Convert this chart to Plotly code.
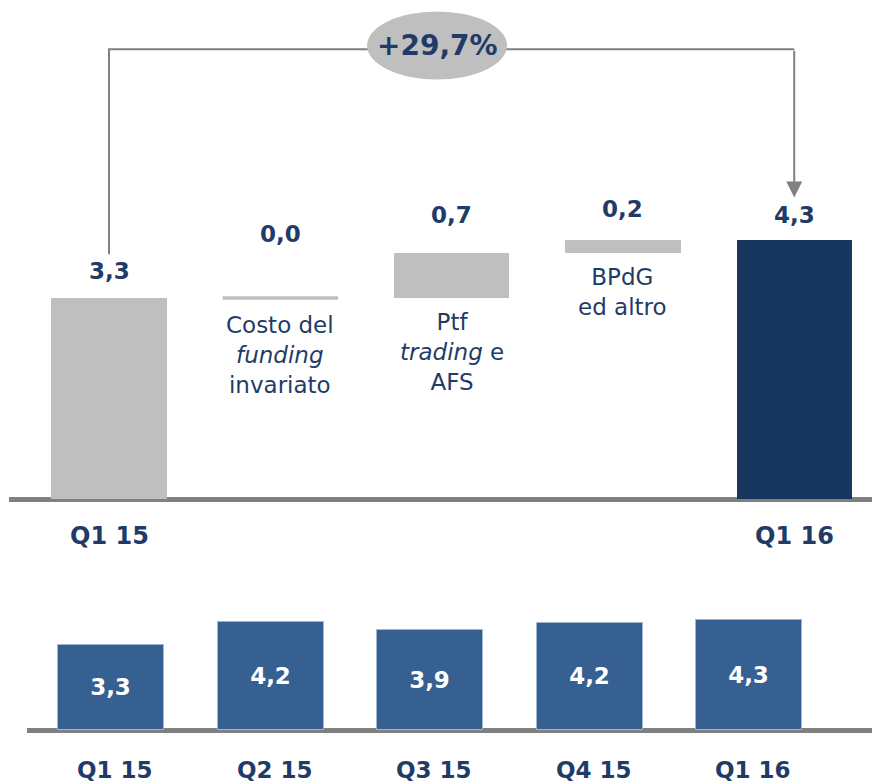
import plotly.graph_objects as go

# ---------------- data ----------------
wf_start_label = "Q1 15"
wf_end_label = "Q1 16"
wf_start_value = 3.30
wf_step_labels = ["Costo del<br><i>funding</i><br>invariato",
                  "Ptf<br><i>trading</i> e<br>AFS",
                  "BPdG<br>ed altro"]
wf_step_values = [0.00, 0.74, 0.22]
wf_end_value = 4.26
growth_label = "+29,7%"

quarters = ["Q1 15", "Q2 15", "Q3 15", "Q4 15", "Q1 16"]
quarter_values = [3.30, 4.20, 3.86, 4.16, 4.26]

# ---------------- style ----------------
FONT = "DejaVu Sans"
NAVY_TXT = "#1f3c68"
GREY = "#bfbfbf"
DARK = "#17375e"
MID = "#366092"
LINE = "#808080"
W, H = 872, 782
SPLIT = 1 - 570 / H


def fmt(v):
    return f"{v:.1f}".replace(".", ",")


fig = go.Figure()

# ---------------- waterfall (top) ----------------
n_steps = len(wf_step_values)
end_x = n_steps + 1
bar_w = 0.674

fig.add_trace(go.Bar(x=[0, end_x], y=[wf_start_value, wf_end_value],
                     marker=dict(color=[GREY, DARK], line=dict(width=0)),
                     width=bar_w, xaxis="x", yaxis="y", hoverinfo="skip"))

bases, cum = [], wf_start_value
for d in wf_step_values:
    bases.append(cum)
    cum += d
step_x = list(range(1, n_steps + 1))
fig.add_trace(go.Bar(x=step_x, y=wf_step_values, base=bases,
                     marker=dict(color=GREY, line=dict(width=0)),
                     width=bar_w, xaxis="x", yaxis="y", hoverinfo="skip"))
# zero steps drawn as a flat marker
for xi, d, b in zip(step_x, wf_step_values, bases):
    if d == 0:
        fig.add_trace(go.Scatter(x=[xi - bar_w / 2, xi + bar_w / 2], y=[b, b],
                                 mode="lines", line=dict(color=GREY, width=3.5),
                                 xaxis="x", yaxis="y", hoverinfo="skip"))

annotations = []
tops = [wf_start_value] + [b + d for b, d in zip(bases, wf_step_values)] + [wf_end_value]
vals = [wf_start_value] + wf_step_values + [wf_end_value]
gaps = [27, 64, 38, 31, 25]
for i, (t, v, g) in enumerate(zip(tops, vals, gaps)):
    annotations.append(dict(x=i, y=t, xref="x", yref="y", yshift=g, yanchor="middle",
                            text=f"<b>{fmt(v)}</b>", showarrow=False,
                            font=dict(family=FONT, size=23, color=NAVY_TXT)))
desc_shift = [-12, -9, -9]
for xi, b, lab, s in zip(step_x, bases, wf_step_labels, desc_shift):
    annotations.append(dict(x=xi, y=b, xref="x", yref="y", yshift=s, yanchor="top",
                            text=lab, showarrow=False,
                            font=dict(family=FONT, size=23, color=NAVY_TXT)))
for xi, lab in [(0, wf_start_label), (end_x, wf_end_label)]:
    annotations.append(dict(x=xi, y=0, xref="x", yref="y", yshift=-37, yanchor="middle",
                            text=f"<b>{lab}</b>", showarrow=False,
                            font=dict(family=FONT, size=24, color=NAVY_TXT)))

# bracket with arrow
BR_Y = 7.384
annotations.append(dict(x=end_x, y=wf_end_value + 0.69, ax=end_x, ay=BR_Y,
                        xref="x", yref="y", axref="x", ayref="y", text="",
                        showarrow=True, arrowhead=2, arrowsize=1.6, arrowwidth=2,
                        arrowcolor=LINE))
annotations.append(dict(x=1.915, y=7.447, xref="x", yref="y",
                        text=f"<b>{growth_label}</b>", showarrow=False,
                        font=dict(family=FONT, size=28, color=NAVY_TXT)))
shapes = [
    dict(type="path", xref="x", yref="y",
         path=f"M 0,{wf_start_value + 0.72} L 0,{BR_Y} L {end_x},{BR_Y}",
         line=dict(color=LINE, width=2)),
    dict(type="circle", xref="x", yref="y", xsizemode="pixel", ysizemode="pixel",
         xanchor=1.915, yanchor=7.447, x0=-70, x1=70, y0=-34, y1=34,
         fillcolor=GREY, line=dict(width=0)),
]

# ---------------- quarterly bars (bottom) ----------------
qx = list(range(len(quarters)))
fig.add_trace(go.Bar(x=qx, y=quarter_values, width=0.665,
                     marker=dict(color=MID, line=dict(color="#9fb6d3", width=1)),
                     text=[f"<b>{fmt(v)}</b>" for v in quarter_values],
                     textposition="inside", insidetextanchor="middle",
                     textfont=dict(family=FONT, size=23, color="white"),
                     xaxis="x2", yaxis="y2", hoverinfo="skip"))
for xi, q in zip(qx, quarters):
    annotations.append(dict(x=xi, y=0, xref="x2", yref="y2", xshift=4, yshift=-40,
                            yanchor="middle", text=f"<b>{q}</b>", showarrow=False,
                            font=dict(family=FONT, size=23, color=NAVY_TXT)))

hidden = dict(showgrid=False, showticklabels=False, ticks="", showline=False)
fig.update_layout(
    width=W, height=H, margin=dict(l=0, r=0, t=0, b=0),
    paper_bgcolor="white", plot_bgcolor="white",
    barmode="overlay", showlegend=False, bargap=0,
    font=dict(family=FONT),
    xaxis=dict(domain=[9 / W, 1], range=[-0.5838, 4.454], zeroline=False, **hidden),
    yaxis=dict(domain=[SPLIT, 1], range=[-71 / 60.9, 499 / 60.9],
               zeroline=True, zerolinewidth=5, zerolinecolor=LINE, **hidden),
    xaxis2=dict(domain=[27 / W, 1], range=[-0.530, 4.771], zeroline=False,
                anchor="y2", **hidden),
    yaxis2=dict(domain=[0, SPLIT], range=[-52 / 25.8, 160 / 25.8], anchor="x2",
                zeroline=True, zerolinewidth=5, zerolinecolor=LINE, **hidden),
    annotations=annotations, shapes=shapes,
)

fig.write_html("out.html", config={"displayModeBar": False},
               post_script="document.body.style.margin='0';")
